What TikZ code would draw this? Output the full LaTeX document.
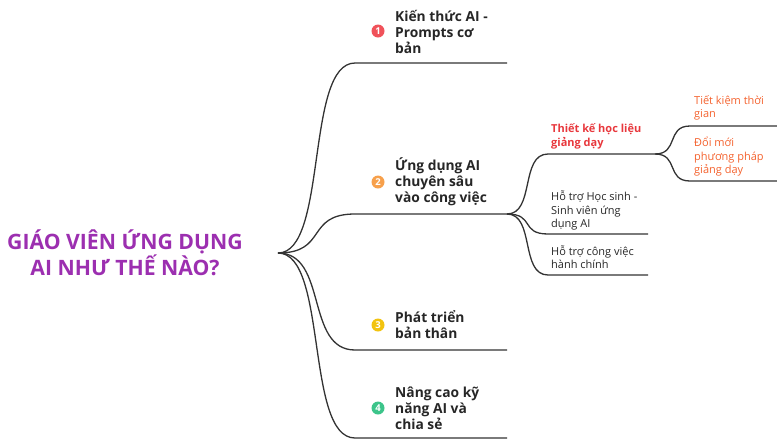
\documentclass[tikz,border=0pt]{standalone}
\usepackage{fontspec}
\setmainfont{Open Sans}
\usepackage{tikz}
\usetikzlibrary{positioning}

\definecolor{rootpurple}{HTML}{9C2FB0}
\definecolor{linegray}{HTML}{333333}
\definecolor{badgered}{HTML}{F0525A}
\definecolor{badgeorange}{HTML}{F7A04B}
\definecolor{badgeyellow}{HTML}{F2C30F}
\definecolor{badgegreen}{HTML}{3CC48A}
\definecolor{subred}{HTML}{E8383D}
\definecolor{leaforange}{HTML}{F4622E}

\begin{document}
\begin{tikzpicture}[x=1pt,y=-1pt,
    branch/.style={draw=linegray,line width=1.3pt},
    mainlabel/.style={anchor=west,align=left,inner sep=0pt,text=black!85,
        font=\bfseries\fontsize{13.8}{16}\selectfont},
    sublabel/.style={anchor=west,align=left,inner sep=0pt,text=black!85,
        font=\fontsize{11}{13.5}\selectfont},
    badge/.style={circle,fill=#1,text=white,inner sep=0pt,minimum size=13pt,
        font=\bfseries\fontsize{9.5}{9.5}\selectfont}]
    \useasboundingbox (0,0) rectangle (777,440);

        % Root
        \node[align=center,text=rootpurple,font=\bfseries\fontsize{21.2}{24}\selectfont] (R) at (125,253) {GIÁO VIÊN ỨNG DỤNG\\AI NHƯ THẾ NÀO?};
        \coordinate (O) at (278,253);

        % Main branch points
        \coordinate (B1s) at (355,63);  \coordinate (B1e) at (507,63);
        \coordinate (B2s) at (355,214); \coordinate (B2e) at (507,214);
        \coordinate (B3s) at (355,350); \coordinate (B3e) at (507,350);
        \coordinate (B4s) at (355,438); \coordinate (B4e) at (507,438);

        % Badges
        \node[badge=badgered] (N1) at (378,31) {1};
        \node[badge=badgeorange] (N2) at (378,182) {2};
        \node[badge=badgeyellow] (N3) at (378,325) {3};
        \node[badge=badgegreen] (N4) at (378,408) {4};

        % Main labels
        \node[mainlabel] (L1) at (395,32) {Kiến thức AI -\\Prompts cơ\\bản};
        \node[mainlabel] (L2) at (395,182) {Ứng dụng AI\\chuyên sâu\\vào công việc};
        \node[mainlabel] (L3) at (395,325) {Phát triển\\bản thân};
        \node[mainlabel] (L4) at (395,408) {Nâng cao kỹ\\năng AI và\\chia sẻ};

        % Sub branch points
        \coordinate (S1s) at (548,154); \coordinate (S1e) at (655,154);
        \coordinate (S2s) at (548,234); \coordinate (S2e) at (648,234);
        \coordinate (S3s) at (548,275); \coordinate (S3e) at (648,275);
        \coordinate (T1s) at (690,126); \coordinate (T1e) at (777,126);
        \coordinate (T2s) at (690,181); \coordinate (T2e) at (777,181);

        % Sub labels
        \node[sublabel,text=subred,font=\bfseries\fontsize{11}{13.5}\selectfont] (M1) at (551,136.5) {Thiết kế học liệu\\giảng dạy};
        \node[sublabel] (M2) at (551,210.5) {Hỗ trợ Học sinh -\\Sinh viên ứng\\dụng AI};
        \node[sublabel] (M3) at (551,257) {Hỗ trợ công việc\\hành chính};
        \node[sublabel,text=leaforange] (K1) at (694,108) {Tiết kiệm thời\\gian};
        \node[sublabel,text=leaforange] (K2) at (694,157) {Đổi mới\\phương pháp\\giảng dạy};

        % Connectors from root
        \draw[branch] (O) .. controls +(50,0) and +(-50,0) .. (B1s) -- (B1e);
        \draw[branch] (O) .. controls +(50,0) and +(-50,0) .. (B2s) -- (B2e);
        \draw[branch] (O) .. controls +(50,0) and +(-50,0) .. (B3s) -- (B3e);
        \draw[branch] (O) .. controls +(50,0) and +(-50,0) .. (B4s) -- (B4e);

        % Connectors from branch 2
        \draw[branch] (B2e) .. controls +(28,0) and +(-28,0) .. (S1s) -- (S1e);
        \draw[branch] (B2e) .. controls +(28,0) and +(-28,0) .. (S2s) -- (S2e);
        \draw[branch] (B2e) .. controls +(28,0) and +(-28,0) .. (S3s) -- (S3e);

        % Connectors from design branch
        \draw[branch] (S1e) .. controls +(24,0) and +(-24,0) .. (T1s) -- (T1e);
        \draw[branch] (S1e) .. controls +(24,0) and +(-24,0) .. (T2s) -- (T2e);

    \end{tikzpicture}
\end{document}
